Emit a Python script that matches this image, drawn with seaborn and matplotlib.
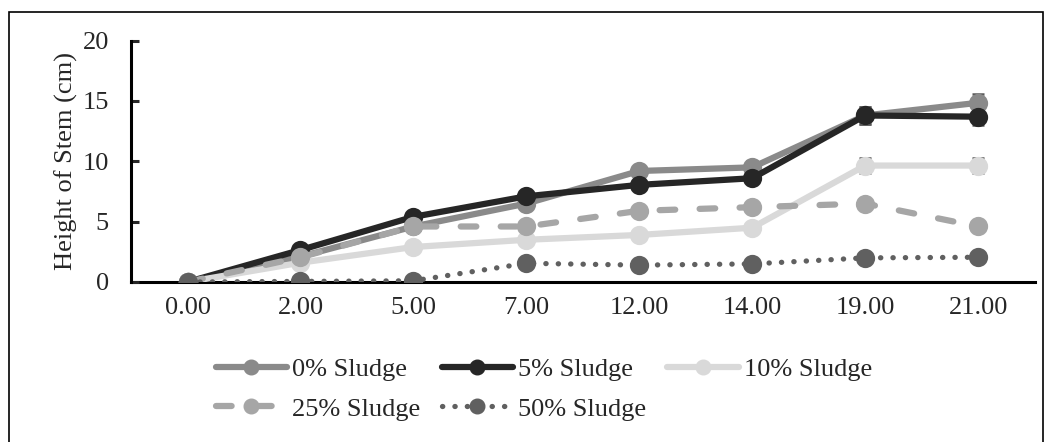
import numpy as np
import pandas as pd
import matplotlib
matplotlib.use("Agg")
import matplotlib.pyplot as plt
from matplotlib.lines import Line2D
from matplotlib.patches import Rectangle
import seaborn as sns

# Sampling days (categorical x axis)
days = ["0.00", "2.00", "5.00", "7.00", "12.00", "14.00", "19.00", "21.00"]

# Mean stem height (cm) per treatment
sludge_0 = [0.0, 2.1, 4.6, 6.5, 9.2, 9.5, 13.8, 14.85]
sludge_5 = [0.0, 2.65, 5.4, 7.1, 8.05, 8.6, 13.8, 13.7]
sludge_10 = [0.0, 1.6, 2.9, 3.5, 3.9, 4.5, 9.65, 9.65]
sludge_25 = [0.0, 2.05, 4.6, 4.6, 5.9, 6.2, 6.5, 4.6]
sludge_50 = [0.0, 0.05, 0.1, 1.55, 1.4, 1.5, 2.0, 2.05]

# Standard deviations (cm)
err_0 = [0, 0, 0, 0, 0, 0.5, 0.7, 0.7]
err_5 = [0, 0, 0, 0, 0, 0, 0.7, 0.7]
err_10 = [0, 0, 0, 0, 0, 0, 0.6, 0.6]
err_25 = [0, 0, 0, 0, 0, 0, 0, 0]
err_50 = [0, 0, 0, 0, 0, 0, 0, 0]

labels = ["0% Sludge", "5% Sludge", "10% Sludge", "25% Sludge", "50% Sludge"]
series = [sludge_0, sludge_5, sludge_10, sludge_25, sludge_50]
errors = [err_0, err_5, err_10, err_25, err_50]
colors = ["#8a8a8a", "#262626", "#d9d9d9", "#a6a6a6", "#606060"]

sns.set_style("white")
plt.rcParams["font.family"] = ["Liberation Serif", "DejaVu Serif"]
FS = 19
plt.rcParams["font.size"] = FS

df = pd.DataFrame({
    "day": np.tile(days, len(labels)),
    "height": np.concatenate(series),
    "treatment": np.repeat(labels, len(days)),
})

fig = plt.figure(figsize=(10.5, 4.42), dpi=100)
ax = fig.add_axes([0.1248, 0.362, 0.8605, 0.546])

lw = 4.5
ms = 10.5
sns.pointplot(data=df, x="day", y="height", hue="treatment", order=days,
              hue_order=labels, palette=colors, markers="o",
              linestyles="-", errorbar=None, legend=False, ax=ax,
              linewidth=lw, markersize=ms)

# line styles per treatment
styles = {
    "0% Sludge": dict(ls="-", lw=lw),
    "5% Sludge": dict(ls="-", lw=lw),
    "10% Sludge": dict(ls="-", lw=lw),
    "25% Sludge": dict(ls=(0, (2.5, 3.9)), lw=lw),
    "50% Sludge": dict(ls=(0, (0.05, 2.3)), lw=3.8),
}
for line, lab, col in zip(ax.lines, labels, colors):
    st = styles[lab]
    line.set_linestyle(st["ls"])
    line.set_linewidth(st["lw"])
    line.set_dash_capstyle("round")
    line.set_solid_capstyle("round")
    line.set_markerfacecolor(col)
    line.set_markeredgecolor(col)
    line.set_markersize(ms)
    line.set_zorder(3)

# error bars with small caps, tucked behind the markers
xpos = np.arange(len(days))
for vals, errs in zip(series, errors):
    v = np.array(vals, dtype=float)
    e = np.array(errs, dtype=float)
    m = e > 0
    if m.any():
        ax.errorbar(xpos[m], v[m], yerr=e[m], fmt="none", ecolor="#5a5a5a",
                    elinewidth=1.0, capsize=4.5, capthick=1.8, zorder=2)

ax.set_xlim(-0.5, len(days) - 0.5)
ax.set_ylim(0, 20)
ax.set_yticks([0, 5, 10, 15, 20])
ax.set_xlabel("")
ax.set_ylabel("Height of Stem (cm)", fontsize=FS, labelpad=3)

for s in ["top", "right"]:
    ax.spines[s].set_visible(False)
for s in ["left", "bottom"]:
    ax.spines[s].set_linewidth(2.2)
    ax.spines[s].set_color("black")
ax.spines["bottom"].set_zorder(0.5)

ax.tick_params(axis="y", direction="in", length=6, width=2.2, pad=16,
               labelsize=FS, left=True)
ax.tick_params(axis="x", length=0, pad=11, labelsize=FS)

handles = []
for lab, col in zip(labels, colors):
    st = styles[lab]
    h = Line2D([], [], color=col, lw=st["lw"], ls=st["ls"], marker="o",
               markersize=ms, markerfacecolor=col, markeredgecolor=col,
               dash_capstyle="round", solid_capstyle="round")
    handles.append(h)

# legend fills column by column; order entries so rows read left to right
order = [0, 3, 1, 4, 2]
fig.legend(handles=[handles[i] for i in order],
           labels=[labels[i] for i in order], loc="center",
           bbox_to_anchor=(0.518, 0.12), ncol=3, frameon=False,
           fontsize=FS, handlelength=2.7, handletextpad=0.2,
           columnspacing=0.8, labelspacing=0.62, borderpad=0)

# chart border
fig.add_artist(Rectangle((8.5 / 1050, -0.05), (1043 - 8.5) / 1050,
                         1 - 12 / 442 + 0.05, transform=fig.transFigure,
                         fill=False, lw=1.2, ec="black"))

fig.savefig("out.png", dpi=100)
